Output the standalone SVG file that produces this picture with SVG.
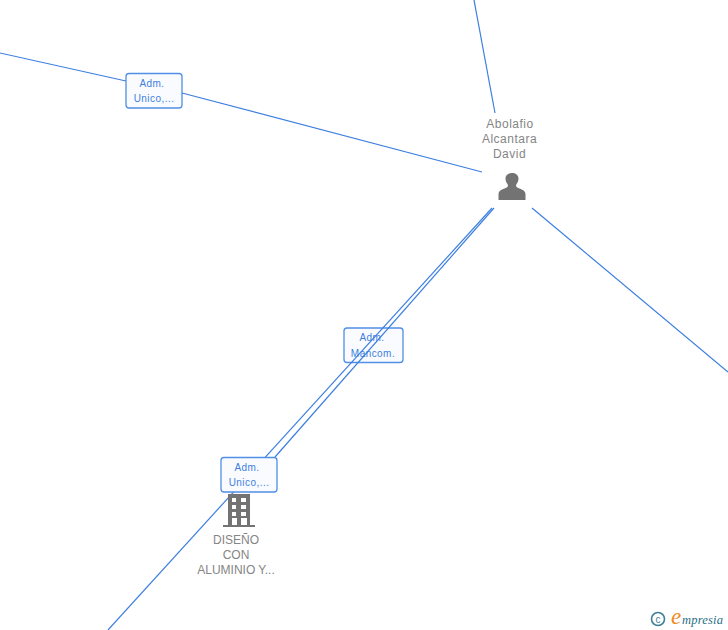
<svg xmlns="http://www.w3.org/2000/svg" width="728" height="630" viewBox="0 0 728 630">
<style>
.c{fill:none;stroke:#3d7fe0;stroke-width:1.2}
.b{fill:#fafbff;stroke:#4f8fe6;stroke-width:1.3}
.l{font:10px "Liberation Sans",Arial,sans-serif;fill:#3d7fe0;text-anchor:middle;letter-spacing:.45px}
.n{font:12px "Liberation Sans",Arial,sans-serif;fill:#858585;text-anchor:middle;letter-spacing:.5px}
.m{font:12px "Liberation Sans",Arial,sans-serif;fill:#858585;text-anchor:middle}
.g{fill:#737373}
</style>
<rect width="728" height="630" fill="#fff"/>
<g id="edge-label-1">
<rect class="b" x="126" y="73.500" width="56" height="34.500" rx="3"/>
<text class="l" x="152" y="87">Adm.</text>
<text class="l" x="154" y="102">Unico,...</text>
</g>
<g id="edge-label-2">
<rect class="b" x="344" y="328" width="59" height="34.500" rx="3"/>
<text class="l" x="372" y="341">Adm.</text>
<text class="l" x="373" y="357">Mancom.</text>
</g>
<g id="connectors">
<path class="c" d="M0 53L126 81"/>
<path class="c" d="M182 93L482 172"/>
<path class="c" d="M474 0L495 113"/>
<path class="c" d="M532 208L728 372"/>
<path class="c" d="M108 630L492 208"/>
<path class="c" d="M494 208L275 457"/>
</g>
<g id="edge-label-3">
<rect class="b" x="221" y="457.500" width="56" height="34.500" rx="3"/>
<text class="l" x="247" y="471">Adm.</text>
<text class="l" x="249" y="486">Unico,...</text>
</g>
<g id="node-person">
<text class="n" x="510" y="128">Abolafio</text>
<text class="n" x="509.500" y="143">Alcantara</text>
<text class="n" x="509.500" y="158">David</text>
<path class="g" d="M498.500 200V194C498.500 190 504 189 507.500 187C508 186 508 185 507.500 184C506 182.500 505.500 180 505.500 178.500C505.500 175 508.500 173 512 173C515.500 173 518.500 175 518.500 178.500C518.500 180 518 182.500 516.500 184C516 185 516 186 516.500 187C520 189 525.500 190 525.500 194V200Z"/>
</g>
<g id="node-company">
<path class="g" fill-rule="evenodd" d="M228 494H250V525H247V518H241V525H237V518H232V525H228ZM232 498V502H236V498ZM241 498V502H246V498ZM232 505V509H236V505ZM241 505V509H246V505ZM232 512V516H236V512ZM241 512V516H246V512Z"/>
<rect class="g" x="223" y="525" width="32" height="2"/>
<text class="m" x="236" y="544">DISEÑO</text>
<text class="m" x="236" y="559">CON</text>
<text class="m" x="236" y="574">ALUMINIO Y...</text>
</g>
<g id="logo">
<circle cx="658" cy="619" r="6.500" fill="none" stroke="#3f7f95" stroke-width="1.600"/>
<text x="658" y="622.500" font-family="Liberation Sans,sans-serif" font-size="10" fill="#3f7f95" text-anchor="middle">c</text>
<text x="671" y="624" font-family="Liberation Serif,serif" font-style="italic" font-size="23" fill="#f08a1d">e</text>
<text x="682" y="624" font-family="Liberation Serif,serif" font-style="italic" font-size="12.500" letter-spacing=".2" fill="#1f6f85">mpresia</text>
</g>
</svg>
